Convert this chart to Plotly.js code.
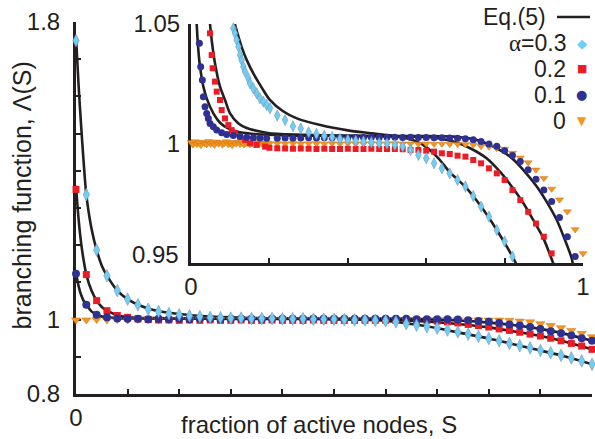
<!DOCTYPE html>
<html>
<head>
<meta charset="utf-8">
<script src="https://cdn.plot.ly/plotly-3.0.1.min.js"></script>
<style>
  html, body { margin: 0; padding: 0; background: #ffffff; }
  #chart { width: 595px; height: 439px; }
</style>
</head>
<body>
<div id="chart"></div>
<script>
// ---------------- main panel data (S = fraction of active nodes) ----------------
const mainS = [0,0.02,0.04,0.06,0.08,0.10,0.12,0.14,0.16,0.18,0.20,0.22,0.24,0.26,0.28,0.30,0.32,0.34,0.36,0.38,0.40,0.42,0.44,0.46,0.48,0.50,0.52,0.54,0.56,0.58,0.60,0.62,0.64,0.66,0.68,0.70,0.72,0.74,0.76,0.78,0.80,0.82,0.84,0.86,0.88,0.90,0.92,0.94,0.96,0.98,1.00];

const mainA03 = [1.750,1.336,1.187,1.118,1.078,1.055,1.040,1.028,1.022,1.016,1.013,1.010,1.008,1.006,1.005,1.004,1.004,1.003,1.003,1.003,1.002,1.002,1.002,1.001,1.001,1.001,1.000,0.999,0.999,0.998,0.997,0.994,0.989,0.985,0.981,0.977,0.972,0.967,0.961,0.955,0.949,0.943,0.936,0.930,0.924,0.917,0.911,0.904,0.897,0.889,0.880];

const mainA02 = [1.350,1.121,1.051,1.024,1.011,1.006,1.002,1.000,0.999,0.999,0.998,0.999,0.998,0.999,0.998,0.998,0.999,0.998,0.998,0.999,0.998,0.998,0.998,0.999,0.998,0.998,0.998,0.998,0.998,0.998,0.998,0.998,0.998,0.998,0.998,0.996,0.994,0.991,0.987,0.984,0.980,0.975,0.971,0.966,0.961,0.956,0.950,0.943,0.936,0.929,0.920];

const mainA01 = [1.123,1.040,1.013,1.006,1.003,1.002,1.002,1.001,1.002,1.001,1.002,1.001,1.002,1.002,1.001,1.002,1.002,1.002,1.001,1.002,1.002,1.002,1.002,1.002,1.002,1.002,1.002,1.002,1.002,1.002,1.002,1.002,1.002,1.001,1.001,1.001,1.001,1.000,0.998,0.996,0.994,0.991,0.987,0.984,0.980,0.975,0.969,0.963,0.957,0.950,0.943];

const mainA00 = [0.999,0.999,1.000,0.999,1.000,0.999,1.000,1.000,0.999,1.000,1.000,0.999,1.000,1.000,1.000,0.999,1.000,1.000,1.000,1.000,1.000,1.000,1.000,1.000,1.000,1.000,1.000,1.000,1.000,1.000,1.000,1.000,1.000,1.000,1.000,1.000,1.000,0.999,0.999,0.999,0.999,0.999,0.998,0.996,0.994,0.989,0.984,0.978,0.971,0.963,0.954];

// Eq.(5) curves, main panel
const mainFitS = [0,0.005,0.01,0.015,0.02,0.03,0.04,0.05,0.06,0.08,0.10,0.12,0.15,0.20,0.25,0.30,0.35,0.40,0.45,0.50,0.55,0.60,0.65,0.70,0.75,0.80,0.85,0.90,0.95,1.00];
const mainFit03 = [1.760,1.630,1.520,1.420,1.336,1.245,1.187,1.145,1.118,1.078,1.055,1.040,1.026,1.015,1.009,1.006,1.004,1.003,1.002,1.001,1.000,0.997,0.988,0.977,0.963,0.949,0.933,0.917,0.900,0.880];
const mainFit02 = [1.360,1.270,1.205,1.158,1.121,1.078,1.051,1.034,1.024,1.012,1.007,1.005,1.004,1.003,1.003,1.002,1.002,1.002,1.002,1.001,1.000,0.999,0.997,0.993,0.987,0.979,0.968,0.956,0.940,0.920];
const mainFit01 = [1.125,1.090,1.066,1.050,1.040,1.022,1.013,1.008,1.006,1.004,1.003,1.003,1.003,1.003,1.003,1.003,1.003,1.003,1.003,1.003,1.003,1.003,1.002,1.000,0.997,0.992,0.985,0.975,0.961,0.943];

// ---------------- inset panel data ----------------
const insetS03 = [0.108,0.112,0.1165,0.121,0.125,0.129,0.1335,0.138,0.146,0.1505,0.159,0.1675,0.176,0.1845,0.193,0.2015,0.22,0.24,0.26,0.28,0.30,0.32,0.34,0.36,0.38,0.40,0.42,0.44,0.46,0.48,0.50,0.52,0.54,0.56,0.58,0.60,0.62,0.64,0.66,0.68,0.70,0.72,0.74,0.76,0.78,0.80,0.82];
const insetA03 = [1.0482,1.0461,1.0433,1.0405,1.0370,1.0349,1.0321,1.0300,1.0273,1.0252,1.0231,1.0210,1.0189,1.0175,1.0161,1.0147,1.0117,1.0098,1.0072,1.0063,1.0047,1.0040,1.0032,1.0027,1.0019,1.0015,1.0011,1.0008,1.0005,1.0002,1.0000,0.9994,0.9987,0.9973,0.9952,0.9938,0.9917,0.9896,0.9875,0.9847,0.9820,0.9780,0.9736,0.9694,0.9638,0.9590,0.9527];

const insetS02 = [0.0485,0.0527,0.0553,0.0612,0.0655,0.074,0.0782,0.0867,0.0952,0.1037,0.112,0.125,0.138,0.1505,0.1675,0.189,0.20,0.22,0.24,0.26,0.28,0.30,0.32,0.34,0.36,0.38,0.40,0.42,0.44,0.46,0.48,0.50,0.52,0.54,0.56,0.58,0.60,0.62,0.64,0.66,0.68,0.70,0.72,0.74,0.76,0.78,0.80,0.82,0.84,0.86,0.88,0.90,0.92];
const insetA02 = [1.0461,1.0370,1.0315,1.0259,1.0217,1.0182,1.0140,1.0105,1.0077,1.0056,1.0043,1.0029,1.0015,1.0001,0.9994,0.9987,0.9982,0.9980,0.9979,0.9978,0.9979,0.9978,0.9977,0.9978,0.9977,0.9977,0.9978,0.9977,0.9977,0.9978,0.9977,0.9977,0.9977,0.9976,0.9973,0.9973,0.9970,0.9966,0.9959,0.9956,0.9949,0.9945,0.9931,0.9917,0.9896,0.9875,0.9847,0.9805,0.9763,0.9714,0.9665,0.9610,0.9540];

const insetS01 = [0.0213,0.0247,0.0289,0.0315,0.0357,0.040,0.0442,0.0485,0.057,0.0655,0.0782,0.091,0.108,0.125,0.142,0.159,0.176,0.193,0.22,0.24,0.26,0.28,0.30,0.32,0.34,0.36,0.38,0.40,0.42,0.44,0.46,0.48,0.50,0.52,0.54,0.56,0.58,0.60,0.62,0.64,0.66,0.68,0.70,0.72,0.74,0.76,0.78,0.80,0.82,0.84,0.86,0.88,0.90,0.92,0.94,0.96,0.98];
const insetA01 = [1.0419,1.0321,1.0266,1.0196,1.0154,1.0126,1.0105,1.0084,1.0070,1.0056,1.0045,1.0038,1.0033,1.0029,1.0026,1.0024,1.0023,1.0022,1.0022,1.0023,1.0022,1.0023,1.0024,1.0023,1.0024,1.0024,1.0025,1.0024,1.0025,1.0025,1.0026,1.0025,1.0026,1.0026,1.0025,1.0026,1.0025,1.0025,1.0024,1.0024,1.0023,1.0022,1.0020,1.0016,1.0008,0.9998,0.9988,0.9970,0.9950,0.9925,0.9890,0.9850,0.9805,0.9757,0.9690,0.9610,0.9527];

const insetS00 = [0,0.005,0.01,0.015,0.02,0.025,0.03,0.035,0.04,0.045,0.05,0.055,0.06,0.065,0.07,0.075,0.08,0.085,0.09,0.095,0.10,0.105,0.11,0.115,0.12,0.125,0.13,0.135,0.14,0.145,0.15,0.155,0.16,0.165,0.17,0.175,0.18,0.185,0.19,0.195,0.20,0.22,0.24,0.26,0.28,0.30,0.32,0.34,0.36,0.38,0.40,0.42,0.44,0.46,0.48,0.50,0.52,0.54,0.56,0.58,0.60,0.62,0.64,0.66,0.68,0.70,0.72,0.74,0.76,0.78,0.80,0.82,0.84,0.86,0.88,0.90,0.92,0.94,0.96,0.98,1.00];
const insetA00 = [1.0005,0.9995,1.0008,0.9997,1.0002,0.9993,1.0006,1.0000,0.9996,1.0009,0.9998,1.0003,0.9994,1.0007,0.9999,1.0004,0.9995,1.0001,1.0008,0.9996,1.0002,0.9993,1.0005,0.9999,1.0006,0.9997,1.0003,0.9995,1.0001,1.0004,0.9996,1.0002,0.9998,1.0005,0.9997,1.0001,0.9999,1.0003,0.9996,1.0002,1.0000,1.0000,0.9999,1.0000,0.9999,1.0000,1.0000,0.9999,1.0000,0.9999,1.0000,0.9999,0.9999,1.0000,0.9999,0.9999,1.0000,0.9999,0.9999,0.9998,0.9999,0.9998,0.9998,0.9997,0.9997,0.9996,0.9994,0.9988,0.9986,0.9980,0.9977,0.9960,0.9940,0.9920,0.9890,0.9855,0.9810,0.9765,0.9715,0.9640,0.9540];

// Eq.(5) curves, inset
const insetFitS03 = [0.106,0.112,0.121,0.130,0.142,0.160,0.180,0.200,0.235,0.270,0.330,0.400,0.460,0.510,0.540,0.570,0.600,0.630,0.660,0.700,0.740,0.780,0.820,0.830];
const insetFit03 = [1.0560,1.0500,1.0447,1.0400,1.0350,1.0290,1.0235,1.0185,1.0135,1.0105,1.0077,1.0055,1.0043,1.0033,1.0025,1.0012,0.9985,0.9940,0.9880,0.9818,0.9736,0.9638,0.9527,0.9495];
const insetFitS02 = [0.047,0.0485,0.0527,0.0612,0.074,0.0867,0.0995,0.121,0.142,0.176,0.200,0.290,0.370,0.460,0.540,0.610,0.669,0.712,0.754,0.788,0.822,0.848,0.873,0.899,0.924,0.926];
const insetFit02 = [1.0560,1.0500,1.0433,1.0335,1.0238,1.0182,1.0126,1.0084,1.0065,1.0050,1.0043,1.0036,1.0033,1.0031,1.0030,1.0026,1.0008,0.9980,0.9938,0.9882,0.9812,0.9750,0.9680,0.9603,0.9499,0.9490];
const insetFitS01 = [0.0135,0.0145,0.0187,0.023,0.0315,0.040,0.057,0.074,0.095,0.1165,0.159,0.244,0.372,0.542,0.669,0.729,0.771,0.814,0.848,0.882,0.907,0.933,0.954,0.971,0.975];
const insetFit01 = [1.0560,1.0500,1.0391,1.0321,1.0238,1.0189,1.0126,1.0087,1.0063,1.0050,1.0040,1.0034,1.0032,1.0031,1.0029,1.0015,0.9987,0.9945,0.9889,0.9820,0.9757,0.9680,0.9596,0.9520,0.9485];

// ---------------- ticks & labels ----------------
const mainXTicks = [0,0.1,0.2,0.3,0.4,0.5,0.6,0.7,0.8,0.9,1];
const mainXText  = ['0','','','','','','','','','','1'];
const mainYTicks = [0.8,0.9,1.0,1.1,1.2,1.3,1.4,1.5,1.6,1.7,1.8];
const mainYText  = ['0.8','','1','','','','','','','','1.8'];
const insetXTicks = [0,0.2,0.4,0.6,0.8,1];
const insetXText  = ['0','','','','','1'];
const insetYTicks = [0.95,1.0,1.05];
const insetYText  = ['','1','1.05'];     // the "0.95" label sits a little above its tick, drawn separately
const insetLowLabel = '0.95';

const legendLabels = ['Eq.(5)', '<span style="font-family:\'Liberation Serif\'">α</span>=0.3', '0.2', '0.1', '0'];

// ---------------- styles ----------------
const INK = '#231f20';
const C03 = '#6dcff6', C02 = '#ed1c24', C01 = '#2e3192', C00 = '#f7941d';
const FONT = 'Liberation Sans, Arial, Helvetica, sans-serif';

function markers(x, y, xa, ya, sym, size, color, lineColor, lw) {
  return { x: x, y: y, xaxis: xa, yaxis: ya, type: 'scatter', mode: 'markers',
           cliponaxis: false, showlegend: false, hoverinfo: 'skip',
           marker: { symbol: sym, size: size, color: color, line: { color: lineColor, width: lw } } };
}
function fit(x, y, xa, ya) {
  return { x: x, y: y, xaxis: xa, yaxis: ya, type: 'scatter', mode: 'lines',
           showlegend: false, hoverinfo: 'skip',
           line: { color: INK, width: 2.6, shape: 'spline', smoothing: 0.8 } };
}

const traces = [
  fit(mainFitS, mainFit03, 'x', 'y'),
  fit(mainFitS, mainFit02, 'x', 'y'),
  fit(mainFitS, mainFit01, 'x', 'y'),
  markers(mainS, mainA00, 'x', 'y', 'triangle-down', 8, C00, '#c0761a', 0.5),
  markers(mainS, mainA02, 'x', 'y', 'square', 7, C02, C02, 0),
  markers(mainS, mainA01, 'x', 'y', 'circle', 8, C01, C01, 0),
  markers(mainS, mainA03, 'x', 'y', 'diamond-tall', 9, C03, '#7f93b0', 0.6),

  fit(insetFitS03, insetFit03, 'x2', 'y2'),
  fit(insetFitS02, insetFit02, 'x2', 'y2'),
  fit(insetFitS01, insetFit01, 'x2', 'y2'),
  markers(insetS00, insetA00, 'x2', 'y2', 'triangle-down', 7, C00, '#c0761a', 0.5),
  markers(insetS02, insetA02, 'x2', 'y2', 'square', 6, C02, C02, 0),
  markers(insetS01, insetA01, 'x2', 'y2', 'circle', 7, C01, C01, 0),
  markers(insetS03, insetA03, 'x2', 'y2', 'diamond-tall', 8, C03, '#7f93b0', 0.6)
];

const axisCommon = {
  showline: true, linewidth: 3, linecolor: INK, mirror: false,
  showgrid: false, zeroline: false, ticks: 'inside', ticklen: 5, tickwidth: 2, tickcolor: INK,
  tickfont: { family: FONT, size: 24, color: INK }, layer: 'below traces', fixedrange: true
};

const layout = {
  width: 595, height: 439,
  margin: { l: 76, r: 3, t: 22, b: 45, pad: 0 },
  paper_bgcolor: '#ffffff', plot_bgcolor: 'rgba(0,0,0,0)',
  showlegend: false,
  font: { family: FONT, color: INK },
  xaxis: Object.assign({}, axisCommon, { domain: [0, 1], range: [0, 1], anchor: 'y',
           tickmode: 'array', tickvals: mainXTicks, ticktext: mainXText, ticklabelstandoff: 0 }),
  yaxis: Object.assign({}, axisCommon, { domain: [0, 1], range: [0.8, 1.8], anchor: 'x',
           tickmode: 'array', tickvals: mainYTicks, ticktext: mainYText, ticklabelstandoff: 8 }),
  xaxis2: Object.assign({}, axisCommon, { domain: [0.2229, 0.9826], range: [0, 1], anchor: 'y2',
           tickmode: 'array', tickvals: insetXTicks, ticktext: insetXText, ticklabelstandoff: 0 }),
  yaxis2: Object.assign({}, axisCommon, { domain: [0.3522, 0.9946], range: [0.95, 1.05], anchor: 'x2',
           tickmode: 'array', tickvals: insetYTicks, ticktext: insetYText, ticklabelstandoff: 3 }),
  annotations: [
    { text: 'branching function, Λ(S)', xref: 'paper', yref: 'paper', x: -0.1047, y: 0.5336,
      textangle: -90, showarrow: false, xanchor: 'center', yanchor: 'middle',
      font: { family: FONT, size: 25, color: INK } },
    { text: 'fraction of active nodes, S', xref: 'paper', yref: 'paper', x: 0.471, y: -0.0833,
      showarrow: false, xanchor: 'center', yanchor: 'middle',
      font: { family: FONT, size: 24, color: INK } },
    { text: insetLowLabel, xref: 'paper', yref: 'paper', x: 0.2035, y: 0.3763,
      showarrow: false, xanchor: 'right', yanchor: 'middle',
      font: { family: FONT, size: 24, color: INK } },
    // legend texts
    { text: legendLabels[0], xref: 'paper', yref: 'paper', x: 0.9147, y: 1.0134, showarrow: false,
      xanchor: 'right', yanchor: 'middle', font: { family: FONT, size: 23, color: INK } },
    { text: legendLabels[1], xref: 'paper', yref: 'paper', x: 0.9535, y: 0.9435, showarrow: false,
      xanchor: 'right', yanchor: 'middle', font: { family: FONT, size: 23, color: INK } },
    { text: legendLabels[2], xref: 'paper', yref: 'paper', x: 0.9535, y: 0.8737, showarrow: false,
      xanchor: 'right', yanchor: 'middle', font: { family: FONT, size: 23, color: INK } },
    { text: legendLabels[3], xref: 'paper', yref: 'paper', x: 0.9535, y: 0.8038, showarrow: false,
      xanchor: 'right', yanchor: 'middle', font: { family: FONT, size: 23, color: INK } },
    { text: legendLabels[4], xref: 'paper', yref: 'paper', x: 0.9535, y: 0.7339, showarrow: false,
      xanchor: 'right', yanchor: 'middle', font: { family: FONT, size: 23, color: INK } },
    // legend keys (glyphs)
    { text: '◆', xref: 'paper', yref: 'paper', x: 0.9806, y: 0.9435, showarrow: false,
      xanchor: 'center', yanchor: 'middle', font: { family: 'DejaVu Sans', size: 13, color: C03 } },
    { text: '■', xref: 'paper', yref: 'paper', x: 0.9806, y: 0.8737, showarrow: false,
      xanchor: 'center', yanchor: 'middle', font: { family: 'DejaVu Sans', size: 11, color: C02 } },
    { text: '●', xref: 'paper', yref: 'paper', x: 0.9806, y: 0.8038, showarrow: false,
      xanchor: 'center', yanchor: 'middle', font: { family: 'DejaVu Sans', size: 13, color: C01 } },
    { text: '▼', xref: 'paper', yref: 'paper', x: 0.9806, y: 0.7339, showarrow: false,
      xanchor: 'center', yanchor: 'middle', font: { family: 'DejaVu Sans', size: 12, color: C00 } }
  ],
  shapes: [
    { type: 'line', xref: 'paper', yref: 'paper', x0: 0.9322, x1: 0.9961, y0: 1.0134, y1: 1.0134,
      line: { color: INK, width: 2.6 } }
  ]
};

Plotly.newPlot('chart', traces, layout, { displayModeBar: false, staticPlot: true });
</script>
</body>
</html>
